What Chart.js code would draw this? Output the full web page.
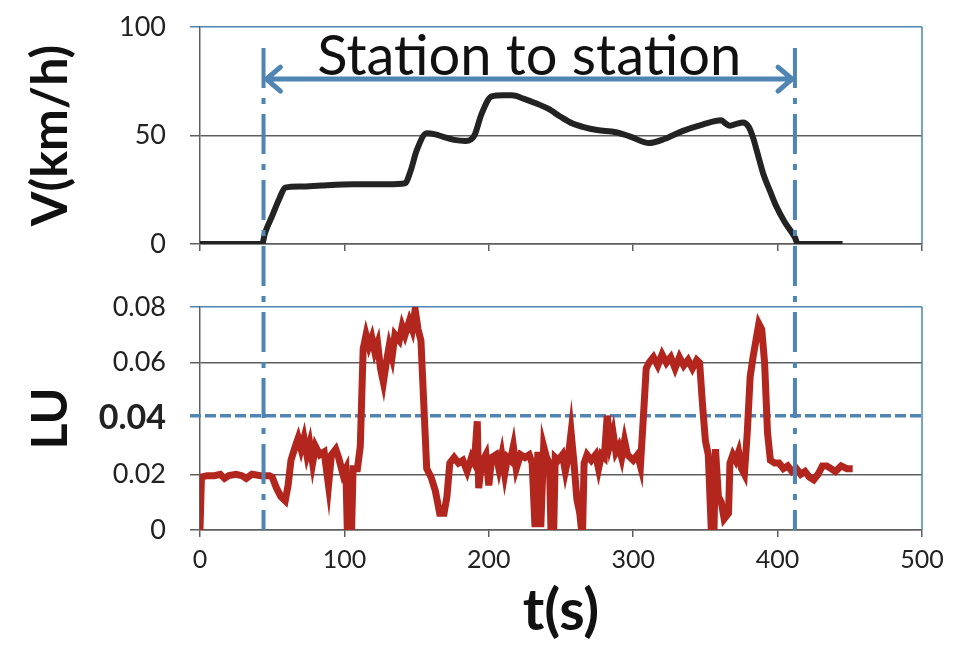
<!DOCTYPE html>
<html>
<head>
<meta charset="utf-8">
<script src="https://cdn.jsdelivr.net/npm/chart.js@4.4.1/dist/chart.umd.min.js"></script>
<style>
  html, body { margin: 0; padding: 0; background: #fff; }
  #wrap { position: relative; width: 967px; height: 646px; }
  #topChart { position: absolute; left: 0; top: 0; }
  #botChart { position: absolute; left: 0; top: 290px; }
</style>
</head>
<body>
<div id="wrap">
  <canvas id="topChart" width="967" height="290"></canvas>
  <canvas id="botChart" width="967" height="356"></canvas>
</div>
<script>
// speed profile (top panel)
const tV = [0, 43, 45, 50, 55, 59, 70, 84, 107, 130, 142, 146, 150, 157, 163, 168, 176, 184, 190, 195, 202, 210, 216, 224, 232, 242, 250, 258, 265, 275, 288, 298, 311, 322, 334, 348, 361, 364, 367, 372, 376, 380, 383, 386, 390, 395, 399, 405, 412, 414, 445];
const vV = [0, 0, 5, 13, 21, 26, 26.5, 27, 27.5, 27.5, 28, 34, 43, 51, 50.5, 49.5, 48, 47.5, 50, 60, 68, 68.5, 68.5, 67, 65, 62, 58.5, 55.5, 54, 52.5, 51.5, 49.5, 46.5, 48.5, 52, 55, 57, 55.5, 54.5, 55.5, 56, 54, 49, 42, 32.5, 24, 17.5, 10, 3, 0, 0];

// LU (bottom panel)
const tLU = [0, 1, 5, 10, 14, 17, 20, 25, 29, 32, 36, 42, 48, 50, 53, 56, 59, 61, 63, 66, 68, 70, 72, 74, 76, 78, 80, 83, 86, 89, 91, 94, 96, 99, 101, 102, 105, 106, 109, 111, 113, 115, 117, 119, 121, 123, 125, 127, 129, 131, 133, 135, 138, 140, 142, 145, 147, 149, 151, 153, 155, 157, 160, 163, 166, 169, 171, 173, 176, 179, 182, 185, 188, 190, 192, 193, 195, 198, 200, 202, 205, 207, 209, 211, 213, 215, 217, 219, 222, 225, 228, 230, 232, 234, 236, 238, 240, 242, 243, 245, 246, 248, 251, 253, 255, 257, 259, 261, 263, 264, 265, 266, 268, 271, 274, 276, 278, 280, 282, 284, 286, 288, 290, 292, 294, 296, 300, 303, 305, 307, 309, 311, 314, 317, 320, 323, 326, 329, 332, 335, 338, 341, 344, 346, 348, 350, 352, 354, 356, 357, 359, 361, 363, 366, 367, 369, 371, 373, 375, 377, 379, 381, 383, 385, 387, 389, 391, 393, 395, 398, 401, 404, 407, 410, 413, 416, 419, 422, 425, 428, 431, 434, 437, 440, 444, 448, 452];
const vLU = [0, 0.019, 0.0195, 0.0195, 0.02, 0.0185, 0.0195, 0.02, 0.0195, 0.0185, 0.02, 0.0195, 0.0195, 0.019, 0.015, 0.012, 0.0105, 0.016, 0.025, 0.03, 0.033, 0.029, 0.033, 0.027, 0.031, 0.024, 0.03, 0.027, 0.028, 0.016, 0.027, 0.029, 0.026, 0.02, 0.022, 0, 0, 0.022, 0.022, 0.03, 0.065, 0.07, 0.066, 0.069, 0.064, 0.067, 0.058, 0.053, 0.06, 0.066, 0.062, 0.07, 0.068, 0.073, 0.07, 0.075, 0.072, 0.079, 0.072, 0.068, 0.045, 0.022, 0.019, 0.014, 0.006, 0.006, 0.012, 0.024, 0.026, 0.024, 0.025, 0.021, 0.026, 0.024, 0.039, 0.015, 0.024, 0.027, 0.016, 0.026, 0.027, 0.022, 0.027, 0.02, 0.026, 0.025, 0.03, 0.022, 0.027, 0.026, 0.027, 0.024, 0.001, 0.028, 0.001, 0.03, 0.026, 0.024, 0.001, 0.001, 0.026, 0.025, 0.027, 0.021, 0.026, 0.035, 0.024, 0.011, 0.006, 0.001, 0.001, 0.024, 0.027, 0.025, 0.027, 0.022, 0.027, 0.026, 0.041, 0.031, 0.035, 0.028, 0.03, 0.026, 0.032, 0.027, 0.025, 0.027, 0.023, 0.04, 0.058, 0.06, 0.062, 0.059, 0.063, 0.06, 0.062, 0.058, 0.062, 0.059, 0.061, 0.058, 0.061, 0.06, 0.045, 0.032, 0.027, 0.001, 0.001, 0.029, 0.012, 0.01, 0.004, 0.006, 0.024, 0.027, 0.025, 0.028, 0.022, 0.02, 0.035, 0.055, 0.062, 0.068, 0.074, 0.072, 0.06, 0.035, 0.025, 0.024, 0.024, 0.022, 0.023, 0.021, 0.022, 0.02, 0.021, 0.019, 0.018, 0.02, 0.023, 0.023, 0.022, 0.021, 0.023, 0.022, 0.022];

// annotations
const stations = [44, 412];
const luLimit = 0.041;
const arrowV = 76;
const xTicks = [0, 100, 200, 300, 400, 500];

const blue = '#4f84b3';
const gridGray = '#5e5e5e';
const font = 'Lato';
const dashDot = [40, 10, 6, 10];
const lineTopAbs = 48;

function pts(xs, ys) {
  return xs.map((x, i) => ({ x: x, y: ys[i] }));
}

function drawStations(chart, yStart, yEnd, offset) {
  const ctx = chart.ctx;
  const xs = chart.scales.x;
  ctx.save();
  ctx.strokeStyle = blue;
  ctx.lineWidth = 4;
  ctx.setLineDash(dashDot);
  ctx.lineDashOffset = offset;
  stations.forEach(t => {
    const px = xs.getPixelForValue(t);
    ctx.beginPath();
    ctx.moveTo(px, yStart);
    ctx.lineTo(px, yEnd);
    ctx.stroke();
  });
  ctx.restore();
}

function drawRightEdge(chart) {
  const ctx = chart.ctx;
  const a = chart.chartArea;
  ctx.save();
  ctx.strokeStyle = blue;
  ctx.lineWidth = 1.5;
  ctx.beginPath();
  ctx.moveTo(a.right, a.top);
  ctx.lineTo(a.right, a.bottom);
  ctx.stroke();
  ctx.restore();
}

const topAnnot = {
  id: 'topAnnot',
  afterDatasetsDraw(chart) {
    const ctx = chart.ctx;
    const xs = chart.scales.x, ys = chart.scales.y;
    drawRightEdge(chart);
    drawStations(chart, lineTopAbs, chart.height, 0);

    // double arrow
    const y = ys.getPixelForValue(arrowV);
    const x1 = xs.getPixelForValue(stations[0] + 2);
    const x2 = xs.getPixelForValue(stations[1] - 2);
    ctx.save();
    ctx.strokeStyle = blue;
    ctx.lineWidth = 5;
    ctx.lineCap = 'round';
    ctx.beginPath();
    ctx.moveTo(x1, y); ctx.lineTo(x2, y);
    ctx.moveTo(x1 + 14, y - 12); ctx.lineTo(x1, y); ctx.lineTo(x1 + 14, y + 12);
    ctx.moveTo(x2 - 14, y - 12); ctx.lineTo(x2, y); ctx.lineTo(x2 - 14, y + 12);
    ctx.stroke();

    ctx.fillStyle = '#111';
    ctx.font = '56px ' + font;
    ctx.textAlign = 'center';
    ctx.textBaseline = 'alphabetic';
    ctx.fillText('Station to station', xs.getPixelForValue(228), y - 4);
    ctx.restore();
  }
};

const botAnnot = {
  id: 'botAnnot',
  beforeDatasetsDraw(chart) {
    const ctx = chart.ctx;
    const ys = chart.scales.y;
    const a = chart.chartArea;
    const y = ys.getPixelForValue(luLimit);
    ctx.save();
    ctx.strokeStyle = blue;
    ctx.lineWidth = 3.5;
    ctx.setLineDash([11, 4]);
    ctx.beginPath();
    ctx.moveTo(a.left - 10, y);
    ctx.lineTo(a.right, y);
    ctx.stroke();
    ctx.restore();
  },
  afterDatasetsDraw(chart) {
    drawRightEdge(chart);
    const offsetTop = chart.canvas.offsetTop;
    drawStations(chart, 0, chart.chartArea.bottom, offsetTop - lineTopAbs);
  }
};

// y scale box: fixed width, no extra label padding above/below the plot
function fixY(s) {
  s.width = 200;
  s.paddingTop = 8;
  s.paddingBottom = 8;
}

new Chart(document.getElementById('topChart'), {
  type: 'line',
  data: {
    datasets: [{
      data: pts(tV, vV),
      borderColor: '#232323',
      borderWidth: 6,
      pointRadius: 0,
      cubicInterpolationMode: 'monotone',
      tension: 0.4
    }]
  },
  options: {
    responsive: false,
    animation: false,
    layout: { padding: { top: 27, right: 45, left: 0, bottom: 0 } },
    plugins: { legend: { display: false }, tooltip: { enabled: false } },
    scales: {
      x: {
        type: 'linear', min: 0, max: 500,
        afterBuildTicks: s => { s.ticks = xTicks.map(v => ({ value: v })); },
        ticks: { display: false },
        grid: { drawOnChartArea: false, tickLength: 7, color: gridGray, lineWidth: 1.5 },
        border: { color: gridGray, width: 1.5 },
        afterFit: s => { s.height = 46; }
      },
      y: {
        min: 0, max: 100,
        ticks: { stepSize: 50, padding: 24, color: '#222', font: { family: font, size: 27 } },
        grid: { color: c => c.tick && c.tick.value === 100 ? blue : gridGray, lineWidth: 1.5, tickLength: 10 },
        border: { color: gridGray, width: 1.5 },
        title: { display: true, text: 'V(km/h)', color: '#111', font: { family: font, size: 50, weight: 'bold' }, padding: { top: 21, bottom: 0 } },
        afterFit: fixY
      }
    }
  },
  plugins: [topAnnot]
});

new Chart(document.getElementById('botChart'), {
  type: 'line',
  data: {
    datasets: [{
      data: pts(tLU, vLU),
      borderColor: '#b3261e',
      borderWidth: 7,
      pointRadius: 0,
      tension: 0
    }, {
      data: pts(tLU, vLU),
      borderColor: 'rgba(255,255,255,0.65)',
      borderWidth: 1.2,
      pointRadius: 0,
      tension: 0
    }]
  },
  options: {
    responsive: false,
    animation: false,
    layout: { padding: { top: 17, right: 45, left: 0, bottom: 0 } },
    plugins: { legend: { display: false }, tooltip: { enabled: false } },
    scales: {
      x: {
        type: 'linear', min: 0, max: 500,
        afterBuildTicks: s => { s.ticks = xTicks.map(v => ({ value: v })); },
        ticks: { padding: 8, color: '#222', font: { family: font, size: 25 } },
        grid: { drawOnChartArea: false, tickLength: 7, color: gridGray, lineWidth: 1.5 },
        border: { color: gridGray, width: 1.5 },
        title: { display: true, text: 't(s)', color: '#111', font: { family: font, size: 58, weight: 'bold' }, padding: { top: 0, bottom: 0 } },
        afterFit: s => { s.height = 116; }
      },
      y: {
        min: 0, max: 0.08,
        ticks: {
          stepSize: 0.02, padding: 24, color: '#222',
          callback: v => v === 0 ? '0' : v.toFixed(2),
          font: c => (c.tick && Math.abs(c.tick.value - 0.04) < 1e-9)
            ? { family: font, size: 34, weight: 'bold' }
            : { family: font, size: 27 }
        },
        grid: {
          color: c => {
            if (!c.tick) return gridGray;
            if (Math.abs(c.tick.value - 0.08) < 1e-9) return blue;
            if (Math.abs(c.tick.value - 0.04) < 1e-9) return 'rgba(0,0,0,0)';
            return gridGray;
          },
          lineWidth: 1.5, tickLength: 10
        },
        border: { color: gridGray, width: 1.5 },
        title: { display: true, text: 'LU', color: '#111', font: { family: font, size: 50, weight: 'bold' }, padding: { top: 21, bottom: 0 } },
        afterFit: fixY
      }
    }
  },
  plugins: [botAnnot]
});
</script>
</body>
</html>
